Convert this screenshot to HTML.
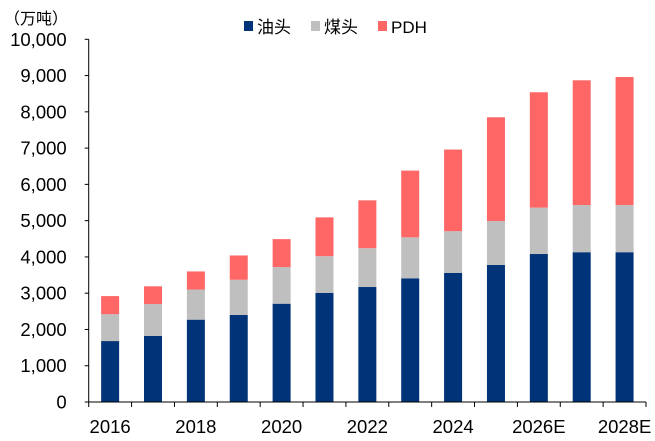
<!DOCTYPE html>
<html><head><meta charset="utf-8"><style>
body{margin:0;background:#fff;}
svg{display:block;font-family:"Liberation Sans","Noto Sans CJK SC",sans-serif;}
</style></head><body>
<svg id="chart" width="655" height="441"></svg>
<script>
const categories=["2016","2017","2018","2019","2020","2021","2022","2023","2024","2025","2026E","2027E","2028E"];
const oilValues=[1680,1820,2270,2400,2710,3010,3170,3410,3560,3780,4080,4130,4130];
const coalValues=[740,880,830,970,1010,1010,1070,1130,1150,1210,1280,1300,1300];
const pdhValues=[500,490,500,670,770,1070,1320,1840,2250,2860,3180,3440,3530];
const yTicks=[0,1000,2000,3000,4000,5000,6000,7000,8000,9000,10000];
const yTickLabels=["0","1,000","2,000","3,000","4,000","5,000","6,000","7,000","8,000","9,000","10,000"];
const xLabels=["2016","","2018","","2020","","2022","","2024","","2026E","","2028E"];

const NS="http://www.w3.org/2000/svg";
const svg=document.getElementById("chart");
const L=88.7,R=646,Y0=402,Y1=39.3,YMAX=10000;
const bw=(R-L)/categories.length;
const barW=18;
function y(v){return Y0-(v/YMAX)*(Y0-Y1);}
function xc(i){return L+bw*(i+0.5);}
function mk(t,a,parent){const e=document.createElementNS(NS,t);for(const k in a)e.setAttribute(k,a[k]);(parent||svg).appendChild(e);return e;}

const colors=["#003377","#BFBFBF","#FF6666"];
const series=[oilValues,coalValues,pdhValues];
const names=["oil","coal","pdh"];
categories.forEach((c,i)=>{
  let base=0;
  series.forEach((s,k)=>{
    const r=mk("rect",{x:xc(i)-barW/2,y:y(base+s[i]),width:barW,height:y(base)-y(base+s[i]),fill:colors[k]});
    
    
    base+=s[i];
  });
});
const ya=mk("line",{x1:L,y1:Y1,x2:L,y2:Y0,stroke:"#000","stroke-width":1});


const xa=mk("line",{x1:L,y1:Y0,x2:R,y2:Y0,stroke:"#000","stroke-width":1});


yTicks.forEach((v,i)=>{
  mk("line",{x1:L-4,y1:y(v),x2:L,y2:y(v),stroke:"#000"});
  const t=mk("text",{x:L-22,y:y(v)+6.5,"text-anchor":"end","font-size":"18.5",fill:"#000"});
  t.textContent=yTickLabels[i];
  
  
});
for(let i=0;i<=categories.length;i++){mk("line",{x1:L+bw*i,y1:Y0,x2:L+bw*i,y2:Y0+5,stroke:"#000"});}
xLabels.forEach((s,i)=>{
  if(!s)return;
  const t=mk("text",{x:xc(i),y:433,"text-anchor":"middle","font-size":"18.5",fill:"#000"});
  t.textContent=s;
  
  
});
</script>
<svg width="655" height="441" style="position:absolute;left:0;top:0">
<text x="4" y="24" font-size="16" font-family="Liberation Sans,Noto Sans CJK SC,sans-serif">（万吨）</text>
<g font-size="17" font-family="Liberation Sans,Noto Sans CJK SC,sans-serif">
<g><rect x="244" y="21" width="9" height="10" fill="#003377"/><text x="257" y="33">油头</text></g>
<g><rect x="311" y="21" width="9" height="10" fill="#BFBFBF"/><text x="324" y="33">煤头</text></g>
<g><rect x="378" y="21" width="9" height="10" fill="#FF6666"/><text x="391" y="33">PDH</text></g>
</g>
</svg>
</body></html>
